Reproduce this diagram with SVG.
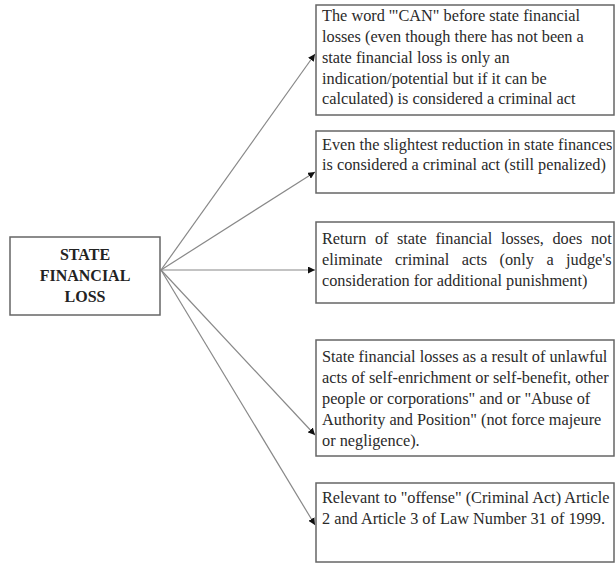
<svg xmlns="http://www.w3.org/2000/svg" width="616" height="563" viewBox="0 0 616 563">
<style>
.box{fill:#fff;stroke:#666;stroke-width:1.5}
.t{font-family:'Liberation Serif','Times New Roman',serif;font-size:16.3px;fill:#2a2a2a}
.h{font-family:'Liberation Serif','Times New Roman',serif;font-size:16px;font-weight:bold;fill:#222;text-anchor:middle}
.c{stroke:#888;stroke-width:1.2;fill:none;marker-end:url(#ah)}
</style>
<defs>
<marker id="ah" viewBox="0 0 10 10" refX="10" refY="5" markerWidth="7" markerHeight="7" markerUnits="userSpaceOnUse" orient="auto">
<path d="M0,0 L10,5 L0,10 z" fill="#111"/>
</marker>
</defs>
<rect width="616" height="563" fill="#fff"/>
<g id="connectors">
<line class="c" x1="161" y1="270" x2="315" y2="54"/>
<line class="c" x1="161" y1="270" x2="315" y2="172"/>
<line class="c" x1="161" y1="270" x2="315" y2="270"/>
<line class="c" x1="161" y1="270" x2="315" y2="435"/>
<line class="c" x1="161" y1="270" x2="315" y2="525"/>
</g>
<g id="source">
<rect class="box" x="10" y="237" width="150" height="78"/>
<text class="h" x="85" y="260">STATE</text>
<text class="h" x="85" y="281">FINANCIAL</text>
<text class="h" x="85" y="302">LOSS</text>
</g>
<g id="box1">
<rect class="box" x="316" y="5" width="298" height="110"/>
<text class="t" x="322" y="21">The word '"CAN" before state financial</text>
<text class="t" x="322" y="42">losses (even though there has not been a</text>
<text class="t" x="322" y="63">state financial loss is only an</text>
<text class="t" x="322" y="84">indication/potential but if it can be</text>
<text class="t" x="322" y="104">calculated) is considered a criminal act</text>
</g>
<g id="box2">
<rect class="box" x="316" y="131" width="298" height="62"/>
<text class="t" x="322" y="150">Even the slightest reduction in state finances</text>
<text class="t" x="322" y="170">is considered a criminal act (still penalized)</text>
</g>
<g id="box3">
<rect class="box" x="316" y="222" width="298" height="81"/>
<text class="t" x="322" y="244" word-spacing="4.5">Return of state financial losses, does not</text>
<text class="t" x="322" y="265" word-spacing="8.4">eliminate criminal acts (only a judge's</text>
<text class="t" x="322" y="286">consideration for additional punishment)</text>
</g>
<g id="box4">
<rect class="box" x="316" y="340" width="298" height="116"/>
<text class="t" x="322" y="362">State financial losses as a result of unlawful</text>
<text class="t" x="322" y="383">acts of self-enrichment or self-benefit, other</text>
<text class="t" x="322" y="404">people or corporations" and or "Abuse of</text>
<text class="t" x="322" y="425">Authority and Position" (not force majeure</text>
<text class="t" x="322" y="446">or negligence).</text>
</g>
<g id="box5">
<rect class="box" x="316" y="483" width="298" height="79"/>
<text class="t" x="322" y="503">Relevant to "offense" (Criminal Act) Article</text>
<text class="t" x="322" y="524">2 and Article 3 of Law Number 31 of 1999.</text>
</g>
</svg>
